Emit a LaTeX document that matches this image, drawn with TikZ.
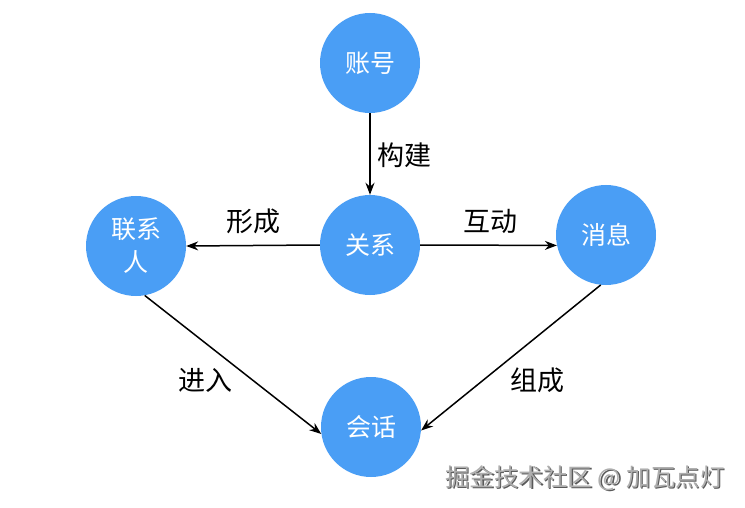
\documentclass[tikz,border=0pt]{standalone}
\usepackage{fontspec}
\newfontfamily\cjk{Noto Sans CJK SC}
\usetikzlibrary{arrows.meta}
\definecolor{nodeblue}{RGB}{74,158,245}
\definecolor{wmgray}{RGB}{140,140,140}
\begin{document}
\begin{tikzpicture}[x=1pt,y=-1pt,
  ent/.style={circle,fill=nodeblue,minimum size=100pt,inner sep=0pt,text=white,font=\cjk\fontsize{25}{33}\selectfont,align=center},
  rel/.style={draw=black,line width=1.5pt,-{Stealth[length=12pt,width=9pt]}},
  lbl/.style={font=\cjk\fontsize{27}{30}\selectfont,text=black}]
\useasboundingbox (0,0) rectangle (745,508);
\fill[white] (0,0) rectangle (745,508);
\node[ent] (zh) at (370,63) {账号};
\node[ent] (gx) at (370,245) {关系};
\node[ent] (lx) at (136,246) {联系\\人};
\node[ent] (xx) at (606,235) {消息};
\node[ent] (hh) at (371,427) {会话};
\draw[rel] (zh.south) -- (gx.north);
\draw[rel] (gx.west) -- (lx.east);
\draw[rel] (gx.east) -- (xx.192);
\draw[rel] (lx.-80) -- (hh.188);
\draw[rel] (xx.-96) -- (hh.-4);
\node[lbl] (l1) at (404,155) {构建};
\node[lbl] (l2) at (253,221) {形成};
\node[lbl] (l3) at (490,221) {互动};
\node[lbl] (l4) at (205,380) {进入};
\node[lbl] (l5) at (537,380) {组成};
\node[font=\cjk\fontsize{24.5}{28}\selectfont,text=black!65,anchor=center] (wms) at (586.2,479.2) {掘金技术社区 @ 加瓦点灯};
\node[font=\cjk\fontsize{24.5}{28}\selectfont,text=wmgray!70,anchor=center] (wm) at (585,478) {掘金技术社区 @ 加瓦点灯};
\end{tikzpicture}
\end{document}
